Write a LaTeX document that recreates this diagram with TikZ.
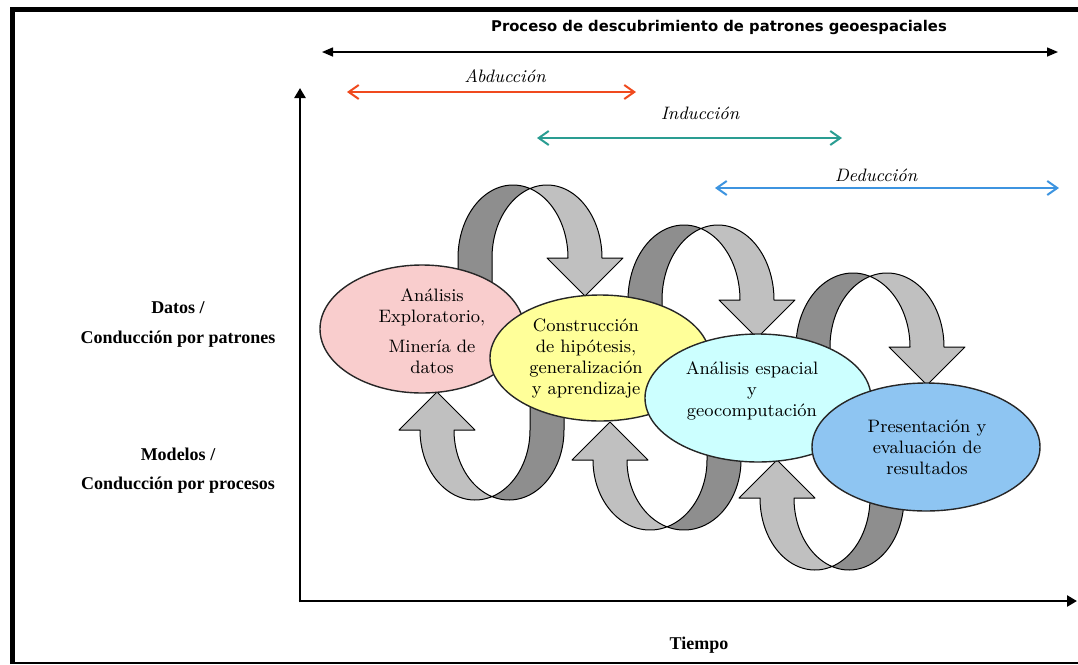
\documentclass[tikz,border=0pt]{standalone}
\usepackage{fontspec}
\newfontfamily\titlefont{DejaVu Sans}
\newfontfamily\labelfont{Liberation Serif}
\usetikzlibrary{arrows.meta,shapes.geometric}

\definecolor{pinkfill}{HTML}{F9CDCD}
\definecolor{yellowfill}{HTML}{FFFF99}
\definecolor{cyanfill}{HTML}{CCFFFF}
\definecolor{bluefill}{HTML}{8EC5F2}
\definecolor{ribbonlight}{HTML}{C0C0C0}
\definecolor{ribbondark}{HTML}{8E8E8E}
\definecolor{abdcol}{HTML}{F04A1E}
\definecolor{indcol}{HTML}{2A9D92}
\definecolor{dedcol}{HTML}{3D94E0}

\tikzset{
  stage/.style={ellipse, draw=black!85, line width=0.7pt, inner sep=0pt},
  stagetext/.style={align=center, font=\fontsize{9}{10.5}\selectfont},
  ribbonfront/.style={fill=ribbonlight, draw=black, line width=0.5pt, line join=round},
  ribbonback/.style={fill=ribbondark, draw=black, line width=0.5pt, line join=round},
  span/.style={line width=1pt, {Straight Barb[length=5pt,width=7pt]}-{Straight Barb[length=5pt,width=7pt]}},
  axis/.style={line width=1.3pt, -{Triangle[length=5pt,width=5.5pt]}},
  axislabel/.style={font=\labelfont\bfseries\fontsize{9}{11}\selectfont, align=center},
  phase/.style={font=\itshape\fontsize{9}{11}\selectfont},
}

% half shaft width, arrowhead half-width and arrowhead length
\def\rw{17}
\def\hw{38}
\def\hl{38}

% A curved arrow is the band between two congruent ellipses (radii A, B)
% shifted by the shaft width; they cross at the apex, which gives the twist.

% loop over the top: rises behind one stage, lands on the next
\newcommand\overloop[4]{%
  \def\lcx{#1}\def\lcy{#2}\def\lra{#3}\def\lrb{#4}%
  \pgfmathsetmacro\lph{acos(\rw/\lra)}%
  \pgfmathsetmacro\lpa{360-\lph}%
  \pgfmathsetmacro\lpb{180+\lph}%
  \draw[ribbonback]
    ({\lcx-\lra-\rw},{\lcy+45})
    -- plot[domain=180:\lpa,samples=60] ({\lcx-\rw+\lra*cos(\x)},{\lcy+\lrb*sin(\x)})
    -- plot[domain=\lpb:180,samples=60] ({\lcx+\rw+\lra*cos(\x)},{\lcy+\lrb*sin(\x)})
    -- ({\lcx-\lra+\rw},{\lcy+45}) -- cycle;
  \draw[ribbonfront]
    plot[domain=\lpb:360,samples=60] ({\lcx+\rw+\lra*cos(\x)},{\lcy+\lrb*sin(\x)})
    -- ({\lcx+\lra+\hw},{\lcy}) -- ({\lcx+\lra},{\lcy+\hl}) -- ({\lcx+\lra-\hw},{\lcy})
    -- plot[domain=360:\lpa,samples=60] ({\lcx-\rw+\lra*cos(\x)},{\lcy+\lrb*sin(\x)})
    -- cycle;
}

% loop underneath: leaves one stage downwards, comes back up to the previous one
\newcommand\underloop[4]{%
  \def\lcx{#1}\def\lcy{#2}\def\lra{#3}\def\lrb{#4}%
  \pgfmathsetmacro\lph{acos(\rw/\lra)}%
  \pgfmathsetmacro\lpb{180-\lph}%
  \draw[ribbonfront]
    ({\lcx-\lra+\rw},{\lcy}) -- ({\lcx-\lra+\hw},{\lcy}) -- ({\lcx-\lra},{\lcy-\hl}) -- ({\lcx-\lra-\hw},{\lcy})
    -- plot[domain=180:\lph,samples=60] ({\lcx-\rw+\lra*cos(\x)},{\lcy+\lrb*sin(\x)})
    -- plot[domain=\lpb:180,samples=60] ({\lcx+\rw+\lra*cos(\x)},{\lcy+\lrb*sin(\x)})
    -- cycle;
  \draw[ribbonback]
    plot[domain=\lpb:0,samples=60] ({\lcx+\rw+\lra*cos(\x)},{\lcy+\lrb*sin(\x)})
    -- ({\lcx+\lra+\rw},{\lcy-45}) -- ({\lcx+\lra-\rw},{\lcy-45})
    -- plot[domain=0:\lph,samples=60] ({\lcx-\rw+\lra*cos(\x)},{\lcy+\lrb*sin(\x)})
    -- cycle;
}

\begin{document}
\begin{tikzpicture}[x=0.5pt,y=-0.5pt]
\useasboundingbox (0,0) rectangle (1078,665);
\fill[white] (0,0) rectangle (1078,665);

% frame
\draw[line width=2.5pt] (12.5,664) -- (12.5,9.5) -- (1078,9.5);
\draw[line width=1pt] (10,663) -- (1078,663);

% axes
\coordinate (orig) at (300,601);
\coordinate (ytop) at (300,88);
\coordinate (xend) at (1077,601);
\draw[axis] ([yshift=-0.65pt]orig) -- (ytop);
\draw[axis] ([xshift=-0.65pt]orig) -- (xend);

% overall process and reasoning spans
\node[font=\titlefont\bfseries\fontsize{7.4}{9}\selectfont] (title) at (719,27) {Proceso de descubrimiento de patrones geoespaciales};
\coordinate (procL) at (322,52);
\coordinate (procR) at (1058,52);
\draw[line width=0.75pt, {Triangle[length=5.5pt,width=4.5pt]}-{Triangle[length=5.5pt,width=4.5pt]}] (procL) -- (procR);

\node[phase] (abd) at (505,76) {Abducción};
\coordinate (abdL) at (347,92);
\coordinate (abdR) at (636,92);
\draw[span, draw=abdcol] (abdL) -- (abdR);

\node[phase] (ind) at (700,113) {Inducción};
\coordinate (indL) at (537,138);
\coordinate (indR) at (842,138);
\draw[span, draw=indcol] (indL) -- (indR);

\node[phase] (ded) at (876,175) {Deducción};
\coordinate (dedL) at (715,188);
\coordinate (dedR) at (1059,188);
\draw[span, draw=dedcol] (dedL) -- (dedR);

% side and bottom labels
\node[axislabel] (datos) at (178,308) {Datos /};
\node[axislabel] (patr) at (178,339) {Conducción por patrones};
\node[axislabel] (model) at (178,454) {Modelos /};
\node[axislabel] (proc) at (178,485) {Conducción por procesos};
\node[axislabel] (tiempo) at (699,645) {Tiempo};

% feedback loops between stages
\overloop{530}{258}{55}{73}
\overloop{701}{300}{56}{75}
\overloop{870}{347}{57}{74}
\underloop{492}{430}{55}{70}
\underloop{667}{460}{57}{70}
\underloop{832}{498}{55}{72}

% stages
\node[stage, fill=pinkfill, minimum width=102pt, minimum height=64pt] (explo) at (422,329) {};
\node[stage, fill=yellowfill, minimum width=110pt, minimum height=63pt] (hipo) at (600,358) {};
\node[stage, fill=cyanfill, minimum width=113pt, minimum height=64pt] (espa) at (758,398) {};
\node[stage, fill=bluefill, minimum width=114pt, minimum height=64pt] (pres) at (926,447) {};

\node[stagetext] (exploT) at (432,331) {Análisis\\Exploratorio,\\[4.5pt]Minería de\\datos};
\node[stagetext] (hipoT) at (586,358) {Construcción\\de hipótesis,\\generalización\\y aprendizaje};
\node[stagetext] (espaT) at (752,391) {Análisis espacial\\y\\geocomputación};
\node[stagetext] (presT) at (927,447) {Presentación y\\evaluación de\\resultados};
\end{tikzpicture}
\end{document}
